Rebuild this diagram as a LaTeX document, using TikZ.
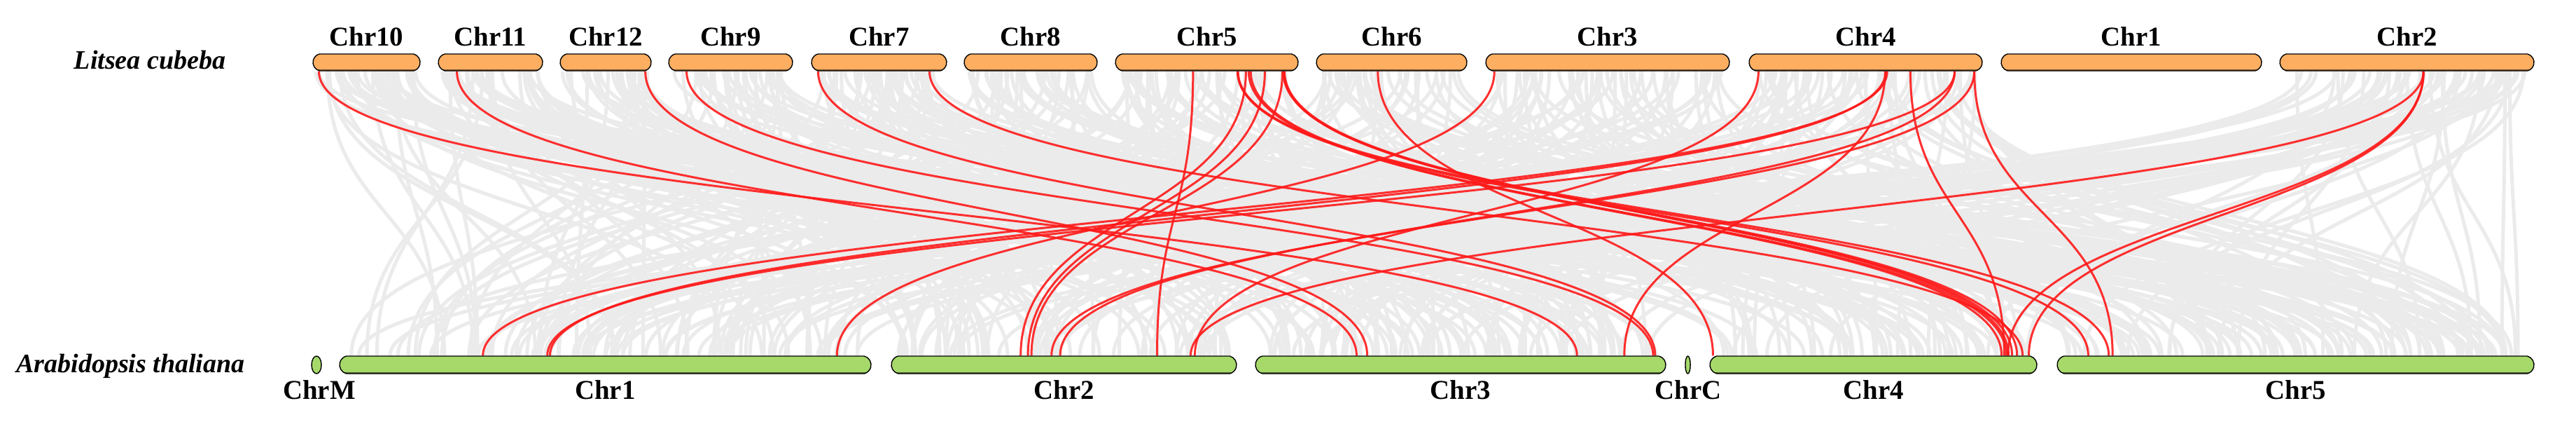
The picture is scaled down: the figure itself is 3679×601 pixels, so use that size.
\documentclass[tikz,border=0pt]{standalone}
\usepackage{fontspec}
\setmainfont{Liberation Serif}
\usetikzlibrary{calc,shapes.misc,shapes.geometric}
\definecolor{chrorange}{HTML}{FDAE61}
\definecolor{chrgreen}{HTML}{A6D96A}
\definecolor{linkgray}{HTML}{EBEBEB}
\definecolor{linkred}{HTML}{FF1A1A}
\pgfdeclarelayer{bg}
\pgfsetlayers{bg,main}
\tikzset{
  chrbar/.style={rounded rectangle, rounded rectangle arc length=150, draw=black, line width=0.35pt, inner sep=0pt},
  topbar/.style={chrbar, fill=chrorange, minimum height=6pt,
    path picture={\draw[line width=1.1pt, color=chrorange!50!black] (path picture bounding box.south west) -- (path picture bounding box.south east);}},
  botbar/.style={chrbar, fill=chrgreen, minimum height=6.25pt,
    path picture={\draw[line width=1.1pt, color=chrgreen!45!black] (path picture bounding box.south west) -- (path picture bounding box.south east);}},
  tinybar/.style={ellipse, draw=black, line width=0.35pt, inner sep=0pt, fill=chrgreen, minimum height=6.25pt},
  chrlab/.style={anchor=base, inner sep=0pt, font=\fontsize{9.7}{11}\selectfont\bfseries},
  splab/.style={anchor=base, inner sep=0pt, font=\fontsize{9.5}{11}\selectfont\bfseries\itshape},
  glink/.style={draw=linkgray, line width=1.25pt},
  rlink/.style={draw=linkred, line width=0.75pt, opacity=0.9}
}
\newcommand\topchr[4]{%
  \node[topbar, minimum width={(#3-#2)*0.25pt}] (#1) at ({(#2+#3)/2},89) {};
  \node[chrlab] (#1l) at ({(#2+#3)/2},65) {#4};}
\newcommand\botchr[4]{%
  \node[botbar, minimum width={(#3-#2)*0.25pt}] (#1) at ({(#2+#3)/2},520.5) {};
  \node[chrlab] (#1l) at ({(#2+#3)/2},569) {#4};}
\newcommand\redlink[4]{%
  \path ($(#1.west)!#2!(#1.east)$) coordinate (pa) ($(#3.west)!#4!(#3.east)$) coordinate (qa);
  \draw[rlink] (pa |- #1.south) .. controls (pa |- midline) and (qa |- midline) .. (qa |- #3.north);}
\begin{document}
\begin{tikzpicture}[x=0.25pt,y=-0.25pt]
\useasboundingbox (0,0) rectangle (3679,601);
\coordinate (midline) at (0,304.5);
% species labels
\node[splab] (litsea) at (214,98) {Litsea cubeba};
\node[splab] (arab) at (186.5,531) {Arabidopsis thaliana};
% Litsea cubeba chromosomes
\topchr{t10}{447}{600}{Chr10}
\topchr{t11}{626}{775}{Chr11}
\topchr{t12}{800}{930}{Chr12}
\topchr{t9}{955}{1132}{Chr9}
\topchr{t7}{1159}{1352}{Chr7}
\topchr{t8}{1377}{1567}{Chr8}
\topchr{t5}{1593}{1854}{Chr5}
\topchr{t6}{1880}{2095}{Chr6}
\topchr{t3}{2122}{2470}{Chr3}
\topchr{t4}{2498}{2831}{Chr4}
\topchr{t1}{2858}{3230}{Chr1}
\topchr{t2}{3256}{3619}{Chr2}
% Arabidopsis chromosomes
\node[tinybar, minimum width=3.5pt] (bM) at (452,520.5) {};
\node[chrlab] (bMl) at (456,569) {ChrM};
\botchr{b1}{485}{1244}{Chr1}
\botchr{b2}{1273}{1766}{Chr2}
\botchr{b3}{1793}{2379}{Chr3}
\node[tinybar, minimum width=1.8pt] (bC) at (2410.5,520.5) {};
\node[chrlab] (bCl) at (2411,569) {ChrC};
\botchr{b4}{2442}{2909}{Chr4}
\botchr{b5}{2938}{3619}{Chr5}
\begin{pgfonlayer}{bg}
\pgfmathsetseed{20231}
\pgfmathdeclarerandomlist{botlist}{{b1}{b1}{b1}{b2}{b2}{b3}{b3}{b3}{b4}{b4}{b5}{b5}{b5}}
\foreach \tn/\cnt in {t10/40,t11/35,t12/30,t9/40,t7/45,t8/40,t5/50,t6/40,t3/60,t4/60,t2/60}{
  \foreach \k in {1,...,\cnt}{
    \pgfmathrandomitem{\bn}{botlist}
    \pgfmathsetmacro{\fa}{0.03+0.94*rnd}
    \pgfmathsetmacro{\fb}{0.02+0.96*rnd}
    \path ($(\tn.west)!\fa!(\tn.east)$) coordinate (pa) ($(\bn.west)!\fb!(\bn.east)$) coordinate (qa);
    \draw[glink] (pa |- \tn.south) .. controls (pa |- midline) and (qa |- midline) .. (qa |- \bn.north);
  }
}
% red links
\redlink{t10}{.059}{b3}{.783}
\redlink{t11}{.181}{b3}{.247}
\redlink{t12}{.931}{b3}{.273}
\redlink{t9}{.147}{b3}{.968}
\redlink{t7}{.052}{b3}{.973}
\redlink{t7}{.870}{b4}{.955}
\redlink{t5}{.425}{b2}{.769}
\redlink{t5}{.667}{b5}{.066}
\redlink{t5}{.670}{b5}{.109}
\redlink{t5}{.713}{b2}{.375}
\redlink{t5}{.728}{b4}{.891}
\redlink{t5}{.739}{b4}{.906}
\redlink{t5}{.816}{b2}{.396}
\redlink{t5}{.912}{b2}{.406}
\redlink{t5}{.916}{b4}{.912}
\redlink{t5}{.920}{b4}{.923}
\redlink{t5}{.923}{b4}{.938}
\redlink{t6}{.409}{b4}{.011}
\redlink{t3}{.037}{b1}{.935}
\redlink{t4}{.042}{b2}{.878}
\redlink{t4}{.583}{b3}{.898}
\redlink{t4}{.586}{b1}{.396}
\redlink{t4}{.592}{b1}{.270}
\redlink{t4}{.691}{b4}{.899}
\redlink{t4}{.880}{b1}{.391}
\redlink{t4}{.880}{b2}{.489}
\redlink{t4}{.964}{b2}{.464}
\redlink{t4}{.964}{b5}{.117}
\redlink{t2}{.565}{b2}{.866}
\redlink{t2}{.565}{b4}{.910}
\redlink{t2}{.565}{b4}{.974}
\end{pgfonlayer}
\end{tikzpicture}
\end{document}
